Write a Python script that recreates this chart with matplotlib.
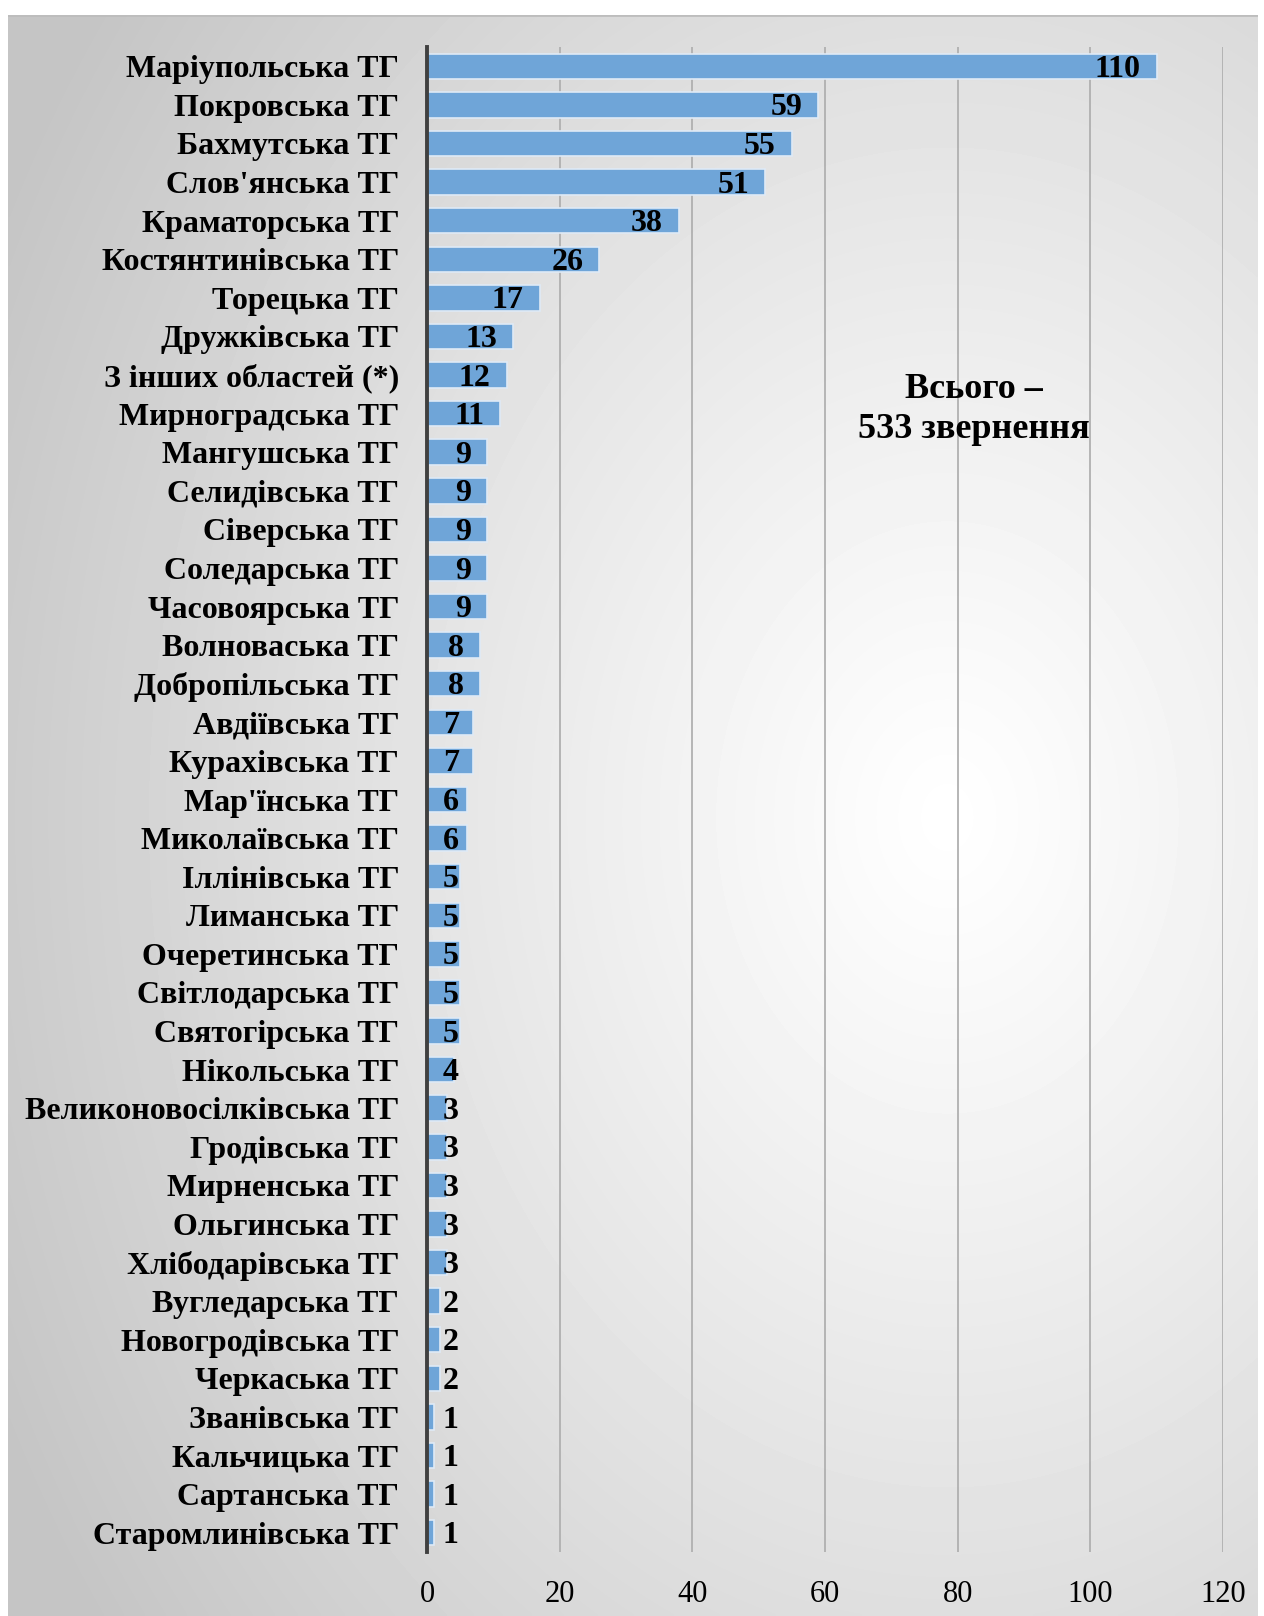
import numpy as np
import matplotlib
matplotlib.use("Agg")
import matplotlib.pyplot as plt

categories = [
    "Маріупольська ТГ", "Покровська ТГ", "Бахмутська ТГ", "Слов'янська ТГ",
    "Краматорська ТГ", "Костянтинівська ТГ", "Торецька ТГ", "Дружківська ТГ",
    "З інших областей (*)", "Мирноградська ТГ", "Мангушська ТГ", "Селидівська ТГ",
    "Сіверська ТГ", "Соледарська ТГ", "Часовоярська ТГ", "Волноваська ТГ",
    "Добропільська ТГ", "Авдіївська ТГ", "Курахівська ТГ", "Мар'їнська ТГ",
    "Миколаївська ТГ", "Іллінівська ТГ", "Лиманська ТГ", "Очеретинська ТГ",
    "Світлодарська ТГ", "Святогірська ТГ", "Нікольська ТГ", "Великоновосілківська ТГ",
    "Гродівська ТГ", "Мирненська ТГ", "Ольгинська ТГ", "Хлібодарівська ТГ",
    "Вугледарська ТГ", "Новогродівська ТГ", "Черкаська ТГ", "Званівська ТГ",
    "Кальчицька ТГ", "Сартанська ТГ", "Старомлинівська ТГ",
]
values = [110, 59, 55, 51, 38, 26, 17, 13, 12, 11, 9, 9, 9, 9, 9, 8, 8, 7, 7, 6,
          6, 5, 5, 5, 5, 5, 4, 3, 3, 3, 3, 3, 2, 2, 2, 1, 1, 1, 1]
x_ticks = [0, 20, 40, 60, 80, 100, 120]
total_text = "Всього –\n533 звернення"

plt.rcParams['font.family'] = ['Liberation Serif', 'DejaVu Serif']

W, H = 1264, 1616
fig = plt.figure(figsize=(W / 100, H / 100), dpi=100)
fig.patch.set_facecolor('white')

# background panel with radial gradient
bg = fig.add_axes([8 / W, 0, (1258 - 8) / W, (H - 15) / H])
bg.set_axis_off()
yy, xx = np.mgrid[0:400, 0:320]
cx, cy = 0.75 * 320, 0.50 * 400
r = np.sqrt(((xx - cx) / 320) ** 2 + ((yy - cy) / 400) ** 2)
r = np.clip(r / 0.85, 0, 1)
shade = 1.0 - 0.23 * r ** 1.1
bg.imshow(shade, cmap='gray', vmin=0, vmax=1, aspect='auto',
          extent=[0, 1, 0, 1], interpolation='bilinear')
bg.set_xlim(0, 1)
bg.set_ylim(0, 1)
bg.axhline(1, color='#bdbdbd', lw=2)

ax = fig.add_axes([427 / W, 1 - 1552 / H, (1223 - 427) / W, (1552 - 47) / H])
ax.patch.set_alpha(0)

y = np.arange(len(categories))
ax.barh(y, values, height=0.66, color='#6fa5d8', edgecolor='#dfeaf6', linewidth=1.2, zorder=3)

ax.set_xlim(0, 120)
ax.set_ylim(len(categories) - 0.5, -0.5)
ax.set_xticks(x_ticks)
ax.set_xticklabels([str(t) for t in x_ticks], fontsize=22)
ax.set_yticks(y)
ax.set_yticklabels(categories, fontsize=23, fontweight='bold')
ax.tick_params(axis='y', length=0, pad=20)
ax.tick_params(axis='x', length=0, pad=20)
ax.grid(axis='x', color='#b0b0b0', lw=1.3, zorder=1)
for s in ['top', 'right', 'bottom']:
    ax.spines[s].set_visible(False)
ax.spines['left'].set_color('#404040')
ax.spines['left'].set_linewidth(2.8)
ax.spines['left'].set_zorder(4)

for yi, v in zip(y, values):
    xt = max(v - 2.4, 4.8)
    ax.text(xt, yi + 0.08, str(v), ha='right', va='center', fontsize=23,
            fontweight='bold', color='black', zorder=5)

ax.text(82.5, 8.9, total_text, ha='center', va='center', fontsize=26,
        fontweight='bold', color='black', linespacing=1.3, zorder=5)

fig.savefig('out.png', dpi=100)
